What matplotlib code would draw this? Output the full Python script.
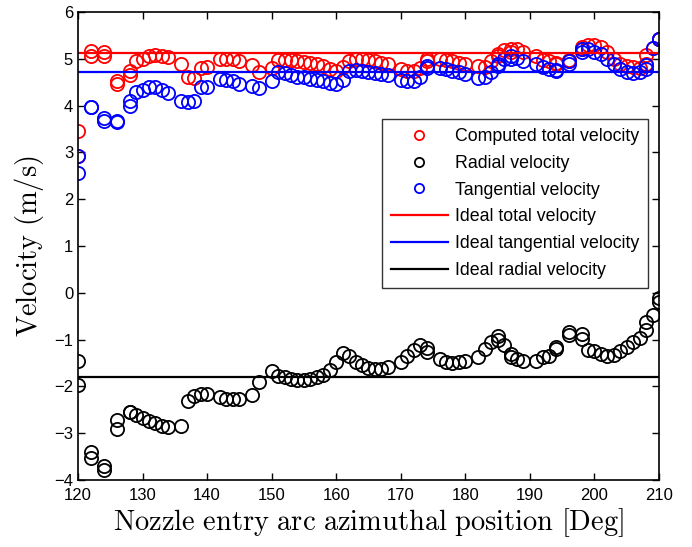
import matplotlib
matplotlib.use('Agg')
import numpy as np
import matplotlib.pyplot as plt

plt.rcParams['font.family'] = ['Liberation Sans', 'DejaVu Sans']
plt.rcParams['mathtext.fontset'] = 'cm'

# azimuthal positions [deg] (some positions measured twice)
pos = [120, 120, 122, 122, 124, 124, 126, 126, 128, 128, 129, 130, 131, 132, 133, 134,
       136, 137, 138, 139, 140, 142, 143, 144, 145, 147, 148, 150,
       151, 152, 153, 154, 155, 156, 157, 158, 159, 160, 161, 162, 163, 164, 165, 166, 167, 168,
       170, 171, 172, 173, 174, 174, 176, 177, 178, 179, 180,
       182, 183, 184, 185, 185, 186, 187, 187, 188, 189,
       191, 192, 193, 194, 194, 196, 196, 198, 198, 199, 200,
       201, 202, 203, 204, 205, 206, 207, 208, 208, 209, 210, 210]

v_total = [3.46, 2.92, 5.16, 5.07, 5.14, 5.05, 4.53, 4.47, 4.74, 4.66, 4.96, 4.99, 5.07, 5.09, 5.05, 5.04,
           4.89, 4.62, 4.60, 4.81, 4.83, 5.00, 5.00, 4.99, 4.96, 4.86, 4.72, 4.80,
           4.98, 4.98, 4.98, 4.96, 4.94, 4.91, 4.88, 4.84, 4.78, 4.74, 4.82, 4.95, 4.99, 4.99, 4.97, 4.95, 4.92, 4.90,
           4.78, 4.75, 4.73, 4.80, 4.95, 5.00, 5.00, 4.98, 4.95, 4.92, 4.90,
           4.85, 4.83, 4.95, 5.10, 5.05, 5.18, 5.20, 5.15, 5.22, 5.15,
           5.05, 4.98, 4.95, 4.92, 4.88, 4.98, 4.95, 5.25, 5.20, 5.30, 5.30,
           5.25, 5.15, 5.00, 4.90, 4.85, 4.82, 4.80, 4.88, 5.09, 5.23, 5.43, 5.43]

v_radial = [-1.46, -1.97, -3.41, -3.52, -3.71, -3.79, -2.72, -2.91, -2.54, -2.54, -2.62, -2.67, -2.73, -2.78, -2.85, -2.87,
            -2.85, -2.32, -2.21, -2.16, -2.16, -2.22, -2.27, -2.27, -2.27, -2.19, -1.91, -1.68,
            -1.77, -1.79, -1.84, -1.86, -1.86, -1.84, -1.80, -1.75, -1.66, -1.48, -1.29, -1.34, -1.48, -1.55, -1.60, -1.62, -1.62, -1.59,
            -1.48, -1.36, -1.23, -1.12, -1.19, -1.27, -1.41, -1.48, -1.50, -1.48, -1.45,
            -1.38, -1.20, -1.05, -0.93, -1.00, -1.12, -1.30, -1.38, -1.41, -1.46,
            -1.46, -1.38, -1.34, -1.16, -1.20, -0.84, -0.91, -0.87, -0.98, -1.22, -1.25,
            -1.30, -1.34, -1.32, -1.25, -1.16, -1.05, -0.96, -0.79, -0.63, -0.48, -0.12, -0.20]

v_tangential = [2.92, 2.57, 3.98, 3.98, 3.73, 3.67, 3.68, 3.65, 4.09, 4.00, 4.30, 4.34, 4.39, 4.40, 4.34, 4.27,
                4.10, 4.07, 4.10, 4.39, 4.40, 4.57, 4.55, 4.52, 4.47, 4.41, 4.37, 4.52,
                4.71, 4.70, 4.66, 4.62, 4.61, 4.57, 4.55, 4.52, 4.48, 4.46, 4.55, 4.74, 4.76, 4.74, 4.72, 4.70, 4.68, 4.65,
                4.55, 4.52, 4.53, 4.62, 4.85, 4.80, 4.80, 4.78, 4.75, 4.72, 4.68,
                4.60, 4.62, 4.72, 4.90, 4.85, 5.00, 5.05, 5.00, 5.02, 4.95,
                4.88, 4.82, 4.78, 4.77, 4.74, 4.95, 4.90, 5.20, 5.15, 5.20, 5.15,
                5.10, 5.00, 4.88, 4.78, 4.72, 4.70, 4.72, 4.78, 4.87, 5.23, 5.43, 5.43]

ideal_total = 5.12
ideal_tangential = 4.71
ideal_radial = -1.80

fig = plt.figure(figsize=(6.92, 5.47), dpi=100)
ax = fig.add_axes([0.1127, 0.1225, 0.8396, 0.8555])

ms = 9.5
ax.plot(pos, v_total, 'o', mfc='none', mec='r', ms=ms, mew=1.3, label='Computed total velocity')
ax.plot(pos, v_radial, 'o', mfc='none', mec='k', ms=ms, mew=1.3, label='Radial velocity')
ax.plot(pos, v_tangential, 'o', mfc='none', mec='b', ms=ms, mew=1.3, label='Tangential velocity')
ax.axhline(ideal_total, color='r', lw=1.6, label='Ideal total velocity')
ax.axhline(ideal_tangential, color='b', lw=1.6, label='Ideal tangential velocity')
ax.axhline(ideal_radial, color='k', lw=1.6, label='Ideal radial velocity')

ax.set_xlim(120, 210)
ax.set_ylim(-4, 6)
ax.set_xticks(np.arange(120, 211, 10))
ax.set_yticks(np.arange(-4, 7, 1))
ax.tick_params(direction='in', top=True, right=True, labelsize=12, length=5, width=1)
ax.tick_params(axis='x', pad=6)
for s in ax.spines.values():
    s.set_linewidth(1.2)

ax.set_xlabel(r'$\mathrm{Nozzle\ entry\ arc\ azimuthal\ position\ [Deg]}$', fontsize=20.5, labelpad=2)
ax.set_ylabel(r'$\mathrm{Velocity\ (m/s)}$', fontsize=20.5, labelpad=6)

leg = ax.legend(loc='upper right', bbox_to_anchor=(0.981, 0.771), borderaxespad=0,
                fontsize=12.8, frameon=True, fancybox=False, edgecolor='k',
                handlelength=3.2, handletextpad=0.4, borderpad=0.5, labelspacing=0.55,
                markerscale=0.7)
leg.get_frame().set_linewidth(1.0)

fig.savefig('out.png', dpi=100)
